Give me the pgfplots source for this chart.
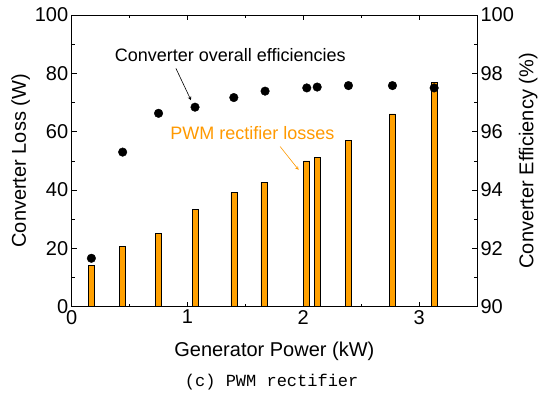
\documentclass[border=0pt]{standalone}
\usepackage{fontspec}
\setmainfont{Liberation Sans}
\newfontfamily\capfont{Liberation Mono}
\usepackage{pgfplots}
\pgfplotsset{compat=1.18}

\definecolor{barorange}{RGB}{255,160,0}
\definecolor{txtorange}{RGB}{255,153,0}

\begin{document}
\begin{tikzpicture}
\pgfplotsset{
  common/.style={
    scale only axis,
    width=405.3pt, height=291.7pt,
    at={(0,0)}, anchor=south west,
    xmin=0, xmax=3.5,
    tick align=inside,
    major tick length=5pt, minor tick length=3pt,
    tick style={black, line width=0.6pt},
    axis line style={line width=0.6pt},
    tick label style={font=\fontsize{20}{22}\selectfont},
    label style={font=\fontsize{20}{22}\selectfont},
    /pgf/number format/assume math mode=true,
  },
}
\begin{axis}[common,
  ymin=0, ymax=100,
  ytick={0,20,40,60,80,100},
  minor y tick num=1,
  xtick={0,1,2,3},
  minor x tick num=1,
  ytick pos=left,
  xtick pos=both,
  ylabel={Converter Loss (W)},
  xlabel={Generator Power (kW)},
  ylabel style={yshift=-2pt},
  xlabel style={yshift=-11pt},
]
\addplot[ybar, bar width=6pt, fill=barorange, draw=black, line width=0.6pt] coordinates {
  (0.17,14.2) (0.44,20.6) (0.75,25.2) (1.07,33.4) (1.40,39.2) (1.66,42.7)
  (2.03,50.0) (2.12,51.2) (2.39,57.1) (2.77,66.1) (3.13,77.0)
};
\node[font=\fontsize{18}{20}\selectfont] at (axis cs:1.37,86.3) {Converter overall efficiencies};
\node[font=\fontsize{18}{20}\selectfont, text=txtorange] at (axis cs:1.56,59.5) {PWM rectifier losses};
\draw[-stealth, line width=0.6pt] (axis cs:0.90,81.7) -- (axis cs:1.03,70.8);
\draw[-stealth, line width=0.6pt, txtorange] (axis cs:1.80,54.9) -- (axis cs:1.96,46.9);
\end{axis}
\begin{axis}[common,
  ymin=90, ymax=100,
  ytick={90,92,94,96,98,100},
  minor y tick num=1,
  axis y line*=right,
  axis x line=none,
  ylabel={Converter Efficiency (\%)},
  ylabel style={yshift=2pt},
]
\addplot[only marks, mark=*, mark size=4.3pt, black] coordinates {
  (0.17,91.66) (0.44,95.30) (0.75,96.63) (1.065,96.84) (1.40,97.17) (1.67,97.39)
  (2.03,97.50) (2.12,97.53) (2.39,97.58) (2.77,97.58) (3.13,97.50)
};
\end{axis}
\node[font=\capfont\fontsize{17}{19}\selectfont] at (200pt,-75.3pt) {(c) PWM rectifier};
\pgfresetboundingbox
\useasboundingbox (-71.7pt,-100.3pt) rectangle (467.3pt,306.7pt);
\end{tikzpicture}
\end{document}
